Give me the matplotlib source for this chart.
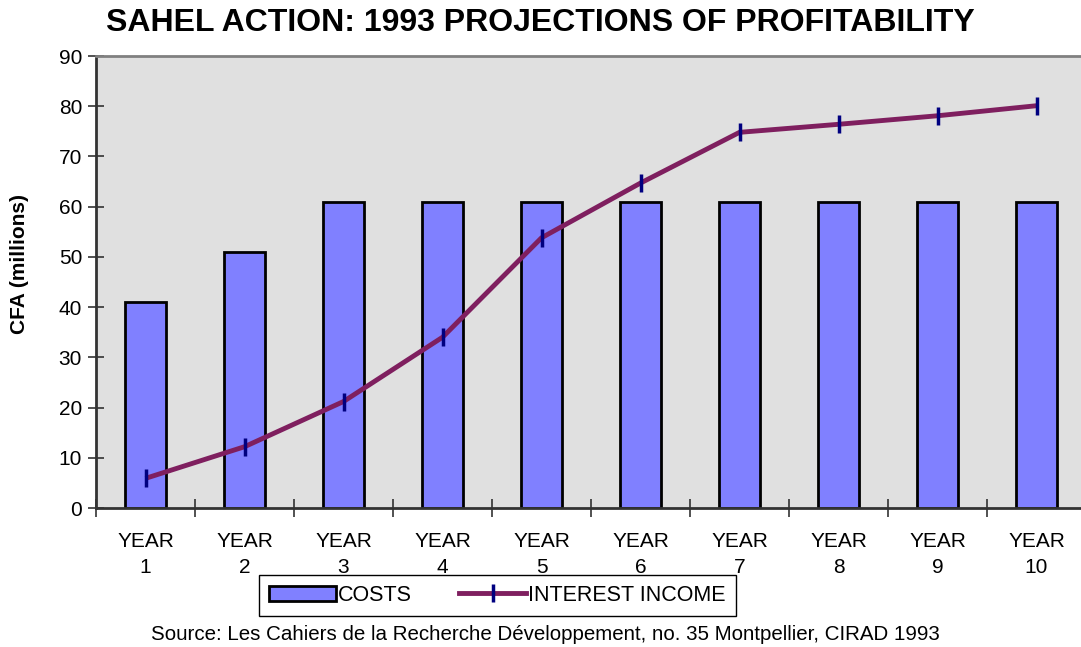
import numpy as np
import matplotlib.pyplot as plt
from matplotlib.patches import Patch
from matplotlib.lines import Line2D

plt.rcParams['font.family'] = ['Liberation Sans', 'DejaVu Sans']

# data
years = ["YEAR\n1", "YEAR\n2", "YEAR\n3", "YEAR\n4", "YEAR\n5",
         "YEAR\n6", "YEAR\n7", "YEAR\n8", "YEAR\n9", "YEAR\n10"]
costs = [41, 51, 61, 61, 61, 61, 61, 61, 61, 61]
interest_income = [5.9, 12.2, 21.2, 34.0, 53.8, 64.7, 74.8, 76.4, 78.1, 80.1]

bar_color = '#8080ff'
line_color = '#7f1f5f'
marker_color = '#000080'

fig = plt.figure(figsize=(10.81, 6.47), dpi=100)
ax = fig.add_axes([96 / 1081, 1 - 508 / 647, 990 / 1081, 452 / 647])
ax.set_facecolor('#e0e0e0')

x = np.arange(len(years))
ax.bar(x, costs, width=0.41, color=bar_color, edgecolor='black', linewidth=2, zorder=2)
ax.plot(x, interest_income, color=line_color, linewidth=3.5, zorder=3,
        solid_joinstyle='round', solid_capstyle='butt')
ax.plot(x, interest_income, linestyle='none', marker='|', markersize=13,
        markeredgewidth=2.5, color=marker_color, zorder=4)

ax.set_xlim(-0.5, 9.5)
ax.set_ylim(0, 90)
ax.set_yticks(np.arange(0, 91, 10))
ax.set_xticks(np.arange(-0.5, 10), labels=[])
ax.set_xticks(x, labels=years, minor=True)
ax.tick_params(axis='x', which='major', direction='inout', length=13, width=1.2, color='#333333')
ax.tick_params(axis='x', which='minor', length=0, pad=17, labelsize=15)
ax.tick_params(axis='y', direction='inout', length=12, width=1.2, color='#333333', labelsize=15, pad=4)
for lbl in ax.get_xticklabels(minor=True):
    lbl.set_linespacing(1.5)

for s in ['left', 'bottom']:
    ax.spines[s].set_color('#333333')
    ax.spines[s].set_linewidth(2)
ax.spines['top'].set_color('#808080')
ax.spines['top'].set_linewidth(2)
ax.spines['right'].set_visible(False)

fig.text(540 / 1081, 1 - 23 / 647, 'SAHEL ACTION: 1993 PROJECTIONS OF PROFITABILITY',
         ha='center', va='center', fontsize=23, fontweight='bold')
fig.text(20 / 1081, 1 - 264 / 647, 'CFA (millions)', rotation=90, ha='center', va='center',
         fontsize=15, fontweight='bold')

handles = [Patch(facecolor=bar_color, edgecolor='black', linewidth=2),
           Line2D([], [], color=line_color, linewidth=3.5, marker='|', markersize=13,
                  markeredgewidth=2.5, markeredgecolor=marker_color)]
leg = fig.legend(handles, ['COSTS', 'INTEREST INCOME'], loc='center',
                 bbox_to_anchor=(497.5 / 1081, 1 - 595.5 / 647), ncol=2, fontsize=15.5,
                 frameon=True, fancybox=False, edgecolor='black', framealpha=1,
                 handlelength=3.1, handletextpad=0.1, columnspacing=2.2, borderpad=0.45)
leg.get_frame().set_linewidth(1)

fig.text(545 / 1081, 1 - 634 / 647,
         'Source: Les Cahiers de la Recherche Développement, no. 35 Montpellier, CIRAD 1993',
         ha='center', va='center', fontsize=14.8)

fig.savefig('out.png', dpi=100)
